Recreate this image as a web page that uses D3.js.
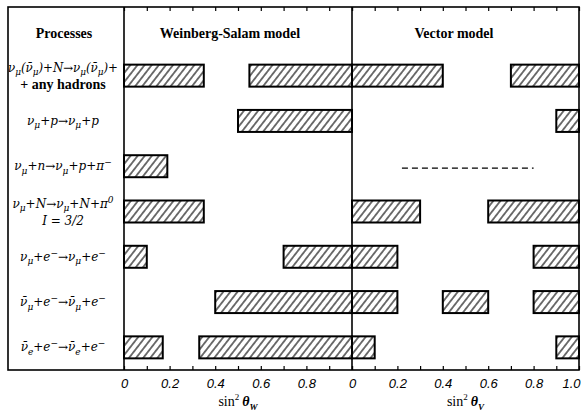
<!DOCTYPE html>
<html>
<head>
<meta charset="utf-8">
<script src="https://cdn.jsdelivr.net/npm/d3@7/dist/d3.min.js"></script>
<style>
  body { margin: 0; background: #fff; }
  text { fill: #000; }
</style>
</head>
<body>
<svg id="chart" width="581" height="417"></svg>
<script>
/* Neutral current processes: allowed sin^2 theta ranges, two models */

// Row labels ("_x" = subscript char, "^x" = superscript char)
let processes = [
    ["ν_μ(ν̄_μ)+N→ν_μ(ν̄_μ)+", "+ any hadrons"],
    ["ν_μ+p→ν_μ+p"],
    ["ν_μ+n→ν_μ+p+π^−"],
    ["ν_μ+N→ν_μ+N+π^0", "I = 3/2"],
    ["ν_μ+e^−→ν_μ+e^−"],
    ["ν̄_μ+e^−→ν̄_μ+e^−"],
    ["ν̄_e+e^−→ν̄_e+e^−"]
];

// Allowed intervals, Weinberg-Salam model (sin^2 theta_W)
let wsRanges = [
    [[0, 0.35], [0.55, 1.0]],
    [[0.5, 1.0]],
    [[0, 0.19]],
    [[0, 0.35]],
    [[0, 0.10], [0.70, 1.0]],
    [[0.40, 1.0]],
    [[0, 0.17], [0.33, 1.0]]
];

// Allowed intervals, vector model (sin^2 theta_V)
let vRanges = [
    [[0, 0.40], [0.70, 1.0]],
    [[0.90, 1.0]],
    [],
    [[0, 0.30], [0.60, 1.0]],
    [[0, 0.20], [0.80, 1.0]],
    [[0, 0.20], [0.40, 0.60], [0.80, 1.0]],
    [[0, 0.10], [0.90, 1.0]]
];

// dashed "no data" line in vector panel
let vDashed = [{ row: 2, from: 0.22, to: 0.80 }];

let tickValues = [0, 0.1, 0.2, 0.3, 0.4, 0.5, 0.6, 0.7, 0.8, 0.9, 1.0];
let wsTickLabels = ["0", "", "0.2", "", "0.4", "", "0.6", "", "0.8", "", ""];
let vTickLabels = ["0", "", "0.2", "", "0.4", "", "0.6", "", "0.8", "", "1.0"];

// Layout
let frame = { left: 8, top: 7, right: 579, bottom: 370 };
let headerBottom = 53;
let barHeight = 22;
let serif = "'Liberation Serif', 'DejaVu Serif', serif";
let labelFont = "'DejaVu Serif', 'Liberation Serif', serif";

let svg = d3.select("#chart");

let xW = d3.scaleLinear().domain([0, 1]).range([124, 352]);
let xV = d3.scaleLinear().domain([0, 1]).range([352, 579]);
let y = d3.scalePoint()
    .domain(d3.range(processes.length))
    .range([headerBottom, frame.bottom])
    .padding(0.5);

// hatch pattern
let defs = svg.append("defs");
defs.append("pattern")
    .attr("id", "hatch")
    .attr("patternUnits", "userSpaceOnUse")
    .attr("width", 5.6)
    .attr("height", 10)
    .attr("patternTransform", "rotate(38)")
  .append("line")
    .attr("x1", 2.8).attr("y1", 0)
    .attr("x2", 2.8).attr("y2", 10)
    .attr("stroke", "#000")
    .attr("stroke-width", 1.1);

// frame and dividers
let g = svg.append("g");
g.append("rect")
    .attr("x", frame.left).attr("y", frame.top)
    .attr("width", frame.right - frame.left)
    .attr("height", frame.bottom - frame.top)
    .attr("fill", "none").attr("stroke", "#000").attr("stroke-width", 1.6);
[xW(0), xV(0)].forEach(function (xx) {
    g.append("line")
        .attr("x1", xx).attr("x2", xx)
        .attr("y1", frame.top).attr("y2", frame.bottom)
        .attr("stroke", "#000").attr("stroke-width", 1.6);
});

// axes (ticks point inward)
function addAxes(scale, labels) {
    let bottom = d3.axisBottom(scale)
        .tickValues(tickValues)
        .tickSizeInner(-4).tickSizeOuter(0)
        .tickPadding(9)
        .tickFormat(function (d, i) { return labels[i]; });
    let ab = svg.append("g")
        .attr("transform", "translate(0," + frame.bottom + ")")
        .call(bottom);
    ab.select(".domain").remove();
    ab.selectAll(".tick line").attr("stroke", "#000").attr("stroke-width", 1.2);
    ab.selectAll(".tick text")
        .attr("font-family", "'Liberation Sans', Arial, sans-serif")
        .attr("font-style", "italic")
        .attr("font-size", 13)
        .attr("fill", "#000")
        .filter(function (d) { return d === 1; })
        .attr("dx", -8);

    let top = d3.axisTop(scale)
        .tickValues(tickValues)
        .tickSizeInner(-4).tickSizeOuter(0)
        .tickFormat("");
    let at = svg.append("g")
        .attr("transform", "translate(0," + frame.top + ")")
        .call(top);
    at.select(".domain").remove();
    at.selectAll(".tick line").attr("stroke", "#000").attr("stroke-width", 1.2);
}
addAxes(xW, wsTickLabels);
addAxes(xV, vTickLabels);

// axis titles
function axisTitle(cx, sub) {
    let t = svg.append("text")
        .attr("x", cx).attr("y", 406)
        .attr("text-anchor", "middle")
        .attr("font-family", serif)
        .attr("font-size", 14);
    t.append("tspan").text("sin");
    t.append("tspan").attr("font-size", 9).attr("dy", -6).text("2");
    t.append("tspan").attr("dy", 6).attr("dx", 3)
        .attr("font-style", "italic").attr("font-weight", "bold").text("θ");
    t.append("tspan").attr("dy", 4).attr("font-size", 9)
        .attr("font-style", "italic").attr("font-weight", "bold").text(sub);
}
axisTitle(xW(0.5), "W");
axisTitle(xV(0.5), "V");

// header
let header = [
    { text: "Processes", x: 64 },
    { text: "Weinberg-Salam model", x: 230 },
    { text: "Vector model", x: 454 }
];
svg.selectAll("text.header")
    .data(header)
    .enter()
    .append("text")
    .attr("class", "header")
    .attr("x", function (d) { return d.x; })
    .attr("y", 38)
    .attr("text-anchor", "middle")
    .attr("font-family", serif)
    .attr("font-weight", "bold")
    .attr("font-size", 14)
    .text(function (d) { return d.text; });

// bars
function drawBars(ranges, scale) {
    let data = [];
    ranges.forEach(function (list, row) {
        list.forEach(function (r) { data.push({ row: row, from: r[0], to: r[1] }); });
    });
    svg.append("g").selectAll("rect")
        .data(data)
        .enter()
        .append("rect")
        .attr("x", function (d) { return scale(d.from); })
        .attr("y", function (d) { return y(d.row) - barHeight / 2; })
        .attr("width", function (d) { return scale(d.to) - scale(d.from); })
        .attr("height", barHeight)
        .attr("fill", "url(#hatch)")
        .attr("stroke", "#000")
        .attr("stroke-width", 2);
}
drawBars(wsRanges, xW);
drawBars(vRanges, xV);

svg.append("g").selectAll("line")
    .data(vDashed)
    .enter()
    .append("line")
    .attr("x1", function (d) { return xV(d.from); })
    .attr("x2", function (d) { return xV(d.to); })
    .attr("y1", function (d) { return y(d.row) + 2; })
    .attr("y2", function (d) { return y(d.row) + 2; })
    .attr("stroke", "#000")
    .attr("stroke-width", 1.3)
    .attr("stroke-dasharray", "6,4");

// row labels
function fillLabel(text, str) {
    let shift = 0;
    let i = 0;
    let buf = "";
    let flush = function () {
        if (buf.length) {
            text.append("tspan").attr("dy", -shift).text(buf);
            shift = 0;
            buf = "";
        }
    };
    while (i < str.length) {
        let c = str[i];
        if ((c === "_" || c === "^") && i + 1 < str.length) {
            flush();
            let d = c === "_" ? 3.5 : -5;
            text.append("tspan")
                .attr("dy", d - shift)
                .attr("font-size", 9)
                .text(str[i + 1]);
            shift = d;
            i += 2;
        } else {
            buf += c;
            i++;
        }
    }
    flush();
}

let labelX = 63;
processes.forEach(function (lines, row) {
    let cy = y(row);
    lines.forEach(function (line, k) {
        let base = lines.length === 1 ? cy + 4 : cy - 4 + k * 17;
        let t = svg.append("text")
            .attr("x", labelX)
            .attr("y", base)
            .attr("text-anchor", "middle");
        if (line.indexOf("any") >= 0) {
            t.attr("font-family", serif)
                .attr("font-size", 14)
                .attr("font-weight", "bold")
                .text(line);
        } else {
            t.attr("font-family", labelFont)
                .attr("font-size", 12)
                .attr("font-style", "italic");
            fillLabel(t, line);
            if (row === 0) t.attr("textLength", 110).attr("lengthAdjust", "spacingAndGlyphs");
        }
    });
});
</script>
</body>
</html>
